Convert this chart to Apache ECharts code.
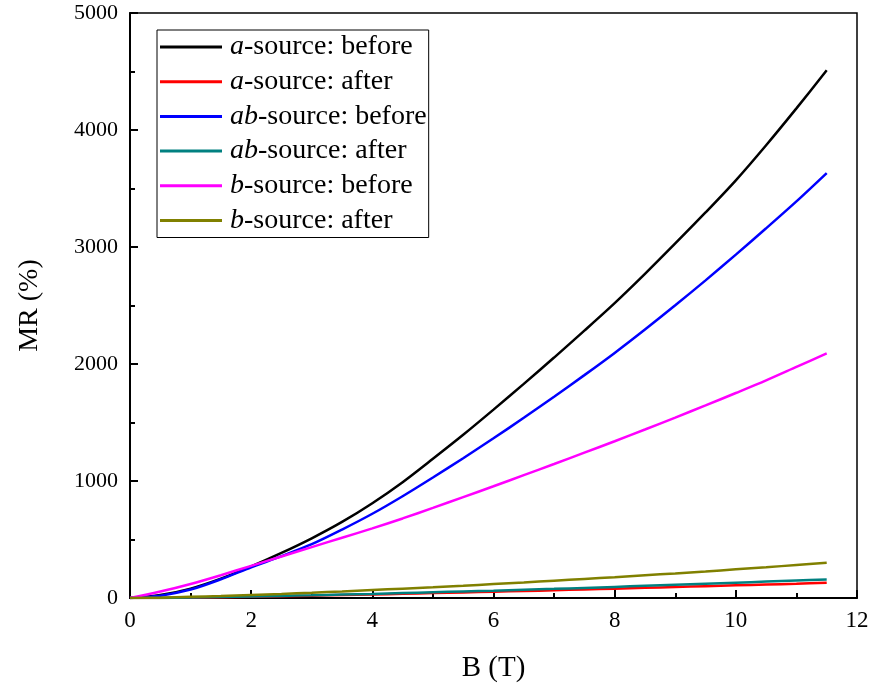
<!DOCTYPE html>
<html>
<head>
<meta charset="utf-8">
<script src="https://cdn.jsdelivr.net/npm/echarts@6/dist/echarts.min.js"></script>
<style>
  html, body { margin: 0; padding: 0; background: #fff; }
  #chart { width: 872px; height: 685px; }
</style>
</head>
<body>
<div id="chart"></div>
<script>
// Magnetic field B (T)
const fieldB = [0, 0.5, 1, 1.5, 2, 2.5, 3, 3.5, 4, 4.5, 5, 5.5, 6, 6.5, 7, 7.5, 8, 8.5, 9, 9.5, 10, 10.5, 11, 11.5];

// Magnetoresistance MR (%) for each sample
const aBefore  = [0, 25, 80, 165, 270, 385, 510, 650, 810, 990, 1190, 1395, 1610, 1830, 2055, 2285, 2520, 2770, 3030, 3295, 3570, 3870, 4185, 4510];
const aAfter   = [0, 1, 3, 7, 11, 16, 20, 25, 30, 36, 42, 48, 54, 60, 66, 73, 80, 87, 94, 101, 108, 115, 122, 130];
const abBefore = [0, 20, 72, 160, 262, 358, 460, 585, 720, 870, 1030, 1195, 1365, 1540, 1720, 1905, 2095, 2295, 2502, 2715, 2935, 3160, 3390, 3632];
const abAfter  = [0, 1, 4, 8, 13, 18, 23, 29, 35, 42, 49, 56, 63, 71, 78, 86, 95, 104, 113, 122, 131, 140, 149, 158];
const bBefore  = [0, 55, 120, 195, 275, 355, 435, 515, 595, 680, 770, 862, 955, 1050, 1145, 1242, 1340, 1440, 1542, 1646, 1752, 1860, 1975, 2090];
const bAfter   = [0, 3, 10, 17, 26, 35, 45, 56, 68, 80, 92, 105, 119, 133, 148, 163, 178, 194, 210, 227, 245, 263, 282, 301];

// Legend entries: italic prefix + plain remainder
const seriesNames = ['a-source: before', 'a-source: after', 'ab-source: before', 'ab-source: after', 'b-source: before', 'b-source: after'];
const seriesValues = [aBefore, aAfter, abBefore, abAfter, bBefore, bAfter];
const seriesColors = ['#000000', '#ff0000', '#0000ff', '#008080', '#ff00ff', '#808000'];

const xTitle = 'B (T)';
const yTitle = 'MR (%)';

const serif = '"Liberation Serif", "Times New Roman", serif';

const chart = echarts.init(document.getElementById('chart'), null, { renderer: 'canvas' });

const series = seriesNames.map((name, i) => ({
  name: name,
  type: 'line',
  data: fieldB.map((b, k) => [b, seriesValues[i][k]]),
  showSymbol: false,
  smooth: 0.3,
  lineStyle: { color: seriesColors[i], width: 2.5 },
  itemStyle: { color: seriesColors[i] },
  emphasis: { disabled: true },
  animation: false
}));

chart.setOption({
  animation: false,
  backgroundColor: '#ffffff',
  grid: {
    left: 130, right: 15, top: 13, bottom: 87,
    outerBoundsMode: 'none',
    containLabel: false,
    show: true, borderColor: '#000', borderWidth: 1.5, backgroundColor: 'transparent'
  },
  legend: {
    show: true,
    left: 157, top: 30,
    orient: 'vertical',
    icon: 'rect',
    itemWidth: 62, itemHeight: 3,
    itemGap: 6.7,
    padding: [3, 2, 3, 3],
    borderColor: '#000', borderWidth: 1,
    backgroundColor: '#fff',
    data: seriesNames,
    formatter: function (name) {
      const idx = name.indexOf('-');
      return '{i|' + name.slice(0, idx) + '}{n|' + name.slice(idx) + '}';
    },
    textStyle: {
      fontFamily: serif, fontSize: 28, color: '#000',
      rich: {
        i: { fontFamily: serif, fontSize: 28, lineHeight: 28, fontStyle: 'italic', color: '#000', padding: [0, 0, 0, 3] },
        n: { fontFamily: serif, fontSize: 28, lineHeight: 28, color: '#000' }
      }
    }
  },
  xAxis: {
    type: 'value',
    min: 0, max: 12, interval: 2,
    name: xTitle,
    nameLocation: 'middle',
    nameGap: 56,
    nameTextStyle: { fontFamily: serif, fontSize: 29, color: '#000' },
    axisLine: { show: true, onZero: false, lineStyle: { color: '#000', width: 2 } },
    axisTick: { show: true, inside: true, length: 8, lineStyle: { color: '#000', width: 2 } },
    minorTick: { show: true, splitNumber: 2, length: 5, lineStyle: { color: '#000', width: 2 } },
    axisLabel: { fontFamily: serif, fontSize: 23, color: '#000', margin: 11 },
    splitLine: { show: false }
  },
  yAxis: {
    type: 'value',
    min: 0, max: 5000, interval: 1000,
    name: yTitle,
    nameLocation: 'middle',
    nameGap: 86,
    nameTextStyle: { fontFamily: serif, fontSize: 28, color: '#000' },
    axisLine: { show: true, onZero: false, lineStyle: { color: '#000', width: 2 } },
    axisTick: { show: true, inside: true, length: 8, lineStyle: { color: '#000', width: 2 } },
    minorTick: { show: true, splitNumber: 2, length: 5, lineStyle: { color: '#000', width: 2 } },
    axisLabel: {
      fontFamily: serif, fontSize: 22, color: '#000', margin: 12,
      formatter: function (v) { return String(v); }
    },
    splitLine: { show: false }
  },
  series: series
});
</script>
</body>
</html>
